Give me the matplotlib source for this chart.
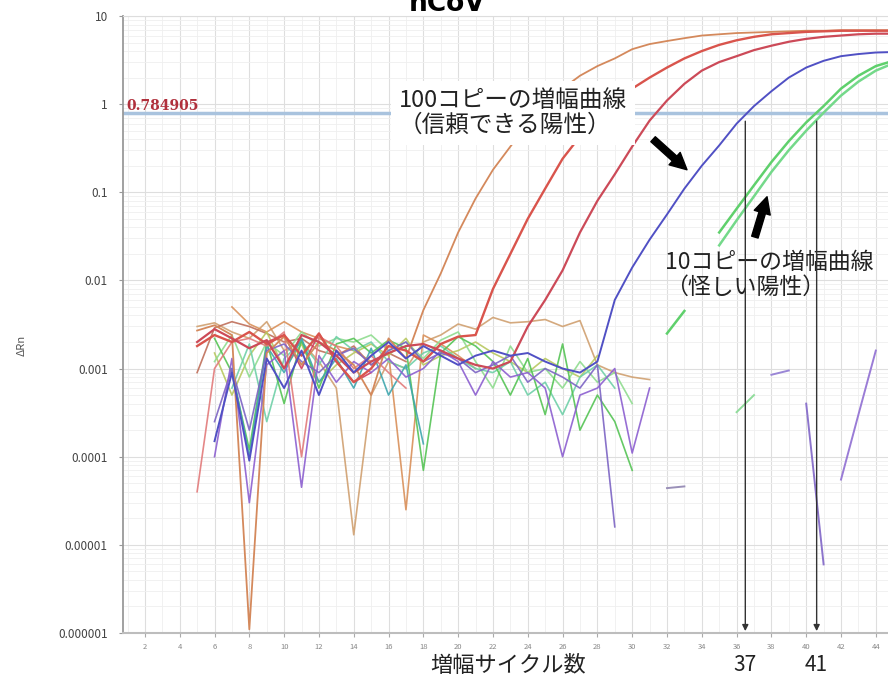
import numpy as np
import matplotlib
matplotlib.use('Agg')
import matplotlib.pyplot as plt
from matplotlib.ticker import FixedLocator, NullFormatter, LogLocator, MultipleLocator
from matplotlib.transforms import blended_transform_factory

# ΔRn values are written in units of 1e-3 (None = no point)
SCALE = 1e-3

# amplification curves (cycles 5..45 / 6..45)
cyc_tan = list(range(5, 46))
amp_tan = [2.7, 3.1, 2.4, 0.0011, 1.5, 2.3, 1.1, 2.0, 1.6, 1.1, 0.5, 2.2, 1.3, 4.6, 12, 35, 85,
           180, 330, 600, 1000, 1500, 2100, 2700, 3300, 4200, 4800, 5200, 5600, 6000, 6200,
           6400, 6500, 6600, 6700, 6800, 6800, 6900, 6900, 6900, 6900]

cyc_red1 = list(range(5, 46))
amp_red1 = [1.8, 2.4, 2.0, 2.6, 1.9, 2.4, 1.4, 2.5, 1.2, 0.7, 1.0, 1.8, 1.6, 1.2, 1.9, 2.3,
            2.4, 8, 20, 50, 110, 240, 430, 700, 1050, 1500, 2000, 2600, 3300, 4000, 4700,
            5300, 5800, 6200, 6400, 6600, 6700, 6800, 6800, 6800, 6800]

cyc_red2 = list(range(5, 46))
amp_red2 = [2.0, 2.8, 2.2, 1.7, 2.1, 1.0, 2.4, 2.0, 1.4, 0.9, 1.2, 1.5, 1.8, 1.9, 1.6, 1.3,
            1.1, 1.0, 1.2, 3.0, 6, 13, 35, 80, 160, 330, 650, 1100, 1700, 2400, 3000, 3500,
            4100, 4600, 5100, 5500, 5800, 6000, 6200, 6300, 6300]

cyc_blue = list(range(6, 46))
amp_blue = [0.15, 0.9, 0.09, 1.3, 0.6, 1.6, 0.5, 1.6, 0.9, 1.4, 2.0, 1.3, 1.8, 1.4, 1.1, 1.4,
            1.6, 1.4, 1.5, 1.2, 1.0, 0.9, 1.2, 6, 14, 29, 56, 110, 200, 340, 600, 950, 1400,
            2000, 2600, 3100, 3500, 3700, 3850, 3900]

cyc_green1 = list(range(32, 46))
amp_green1 = [2.5, 4.5, None, 35, 65, 120, 220, 380, 620, 950, 1500, 2100, 2700, 3100]

cyc_green2 = list(range(35, 46))
amp_green2 = [25, 48, 90, 170, 300, 500, 800, 1250, 1800, 2400, 2900]

# baseline noise (cycles 5..31)
cyc_base = list(range(5, 32))
n_purple = [None, 0.10, 1.3, 0.03, 1.1, 1.6, 0.045, 1.4, 0.7, 1.2, 0.9, 1.3, 0.8, 1.0, 1.6,
            1.2, 0.5, 1.2, 0.8, 0.9, 0.6, 0.1, 0.5, 0.6, 1.0, 0.11, 0.6]
n_violet = [None, 0.25, 1.0, 0.2, 1.6, 1.9, 1.2, 0.9, 1.4, 1.7, 1.1, 1.6, 2.0, 1.2, 1.5, 1.3,
            0.9, 1.1, 1.4, 0.7, 1.0, 0.8, 0.6, 1.1, 0.016, None, None]
n_teal = [None, None, 1.0, 0.1, 1.8, 0.9, 2.2, 0.7, 1.3, 0.6, 1.7, 0.5, 1.1, 0.14, None, None,
          None, None, None, None, None, None, None, None, None, None, None]
n_green = [None, 2.2, 0.9, 0.12, 2.0, 0.4, 2.1, 0.6, 1.9, 2.2, 1.5, 2.1, 1.7, 0.07, 1.5, 2.3,
           1.8, 1.2, 0.5, 1.3, 0.3, 1.9, 0.2, 0.5, 0.25, 0.07, None]
n_lightgreen = [None, 1.2, 2.4, 0.8, 2.0, 1.4, 2.6, 1.8, 2.2, 2.0, 2.4, 1.6, 2.0, 1.3, 2.1,
                2.6, 1.2, 0.6, 1.8, 0.9, 1.0, 0.6, 1.2, 0.7, 0.9, 0.4, None]
n_mint = [None, None, 0.6, 1.9, 0.25, 1.3, 2.0, 1.1, 2.3, 1.6, 2.0, 1.2, 1.0, 1.5, 1.8, 1.3,
          1.0, 0.9, 1.2, 0.5, 0.7, 0.3, 0.8, 1.1, 0.6, None, None]
n_salmon = [0.04, 1.0, 2.0, 2.2, 1.8, 2.6, 0.1, 2.3, 1.8, 1.0, 1.4, 0.9, 0.6, None, None, None,
            None, None, None, None, None, None, None, None, None, None, None]
n_sand = [3.0, 3.3, 2.6, 2.2, 3.4, 1.6, 2.0, 1.2, 0.6, 0.013, 0.5, 1.2, 1.0, 2.0, 2.4, 3.2,
          2.8, 3.8, 3.3, 3.4, 3.6, 3.0, 3.5, 1.1, 0.9, 0.8, 0.75]
n_olive = [None, 1.5, 0.5, 1.4, 2.6, 1.0, 1.9, 0.7, 1.1, 1.5, 1.9, 1.4, 2.2, 1.1, 1.4, 1.6,
           2.0, 1.5, 1.2, 0.9, 1.3, 1.0, 0.8, 1.4, None, None, None]
n_crimson = [None, None, None, None, 2.0, 2.4, 1.0, 2.5, 1.2, 0.7, 0.9, None, None, None, None,
             None, None, None, None, None, None, None, None, None, None, None, None]
n_brown = [0.9, 2.9, 3.4, 3.0, 2.5, 2.0, 2.2, 1.6, 1.4, 1.8, 1.1, 1.5, 1.2, None, None, None,
           None, None, None, None, None, None, None, None, None, None, None]
n_orange = [None, None, 5.0, 3.2, 2.6, 3.4, 2.6, 2.2, 1.8, 1.6, 1.2, 1.5, 0.025, 2.4, 1.9,
            1.4, 1.0, None, None, None, None, None, None, None, None, None, None]

# short late fragments
frag_cycles = [[36, 37], [38, 39], [32, 33], [40, 41], [42, 43, 44]]
frag_values = [[0.32, 0.5], [0.85, 0.95], [0.044, 0.046], [0.4, 0.006], [0.055, 0.3, 1.6]]
frag_colors = ['#8fdc9a', '#9a86d6', '#9a90b8', '#8c74cc', '#9a7cd6']

threshold = 0.784905
ct_100, ct_10 = 36.5, 40.6
ct_labels = ['37', '41']

plt.rcParams['font.family'] = ['Noto Sans CJK JP', 'DejaVu Sans']

fig = plt.figure(figsize=(8.88, 6.92), dpi=100)
ax = fig.add_axes([0.1385, 0.0853, 0.8615, 0.8916])
ax.set_yscale('log')
ax.set_xlim(0.74, 44.7)
ax.set_ylim(1e-6, 10)


def arr(v):
    return np.array(v, dtype=float) * SCALE


noise = [(n_sand, '#d0a070'), (n_brown, '#bf6f5a'), (n_orange, '#d9905a'),
         (n_olive, '#b8c860'), (n_lightgreen, '#8fdc8f'), (n_mint, '#6fd0a8'),
         (n_green, '#55c455'), (n_teal, '#3fa6ae'), (n_salmon, '#e27a7a'),
         (n_crimson, '#d23c5c'), (n_violet, '#7c64c4'), (n_purple, '#8c5fd0')]
for vals, col in noise:
    ax.plot(cyc_base, arr(vals), color=col, lw=1.2, alpha=0.9)

for cx, vx, col in zip(frag_cycles, frag_values, frag_colors):
    ax.plot(cx, arr(vx), color=col, lw=1.4)

ax.plot(cyc_tan, arr(amp_tan), color='#d4895c', lw=1.3)
ax.plot(cyc_red1, arr(amp_red1), color='#d9544c', lw=1.7)
ax.plot(cyc_red2, arr(amp_red2), color='#cc4a58', lw=1.6)
ax.plot(cyc_blue, arr(amp_blue), color='#5050c4', lw=1.4)
ax.plot(cyc_green1, arr(amp_green1), color='#5fd06c', lw=1.8)
ax.plot(cyc_green2, arr(amp_green2), color='#74d98a', lw=1.8)

ax.axhline(threshold, color='#a9c3de', lw=2.5, zorder=1.8)
ax.text(0.004, threshold, f'{threshold:.6f}',
        transform=blended_transform_factory(ax.transAxes, ax.transData),
        family='DejaVu Serif', weight='bold', color='#b0303c', fontsize=10,
        ha='left', va='bottom')

# grid / ticks
ax.xaxis.set_major_locator(MultipleLocator(2))
ax.xaxis.set_minor_locator(MultipleLocator(1))
ax.set_xticks(range(2, 45, 2))
ax.set_xticklabels([str(i) for i in range(2, 45, 2)])
decades = [1e-6, 1e-5, 1e-4, 1e-3, 1e-2, 1e-1, 1, 10]
dec_labels = ['0.000001', '0.00001', '0.0001', '0.001', '0.01', '0.1', '1', '10']
ax.yaxis.set_major_locator(FixedLocator(decades))
ax.set_yticklabels(dec_labels)
ax.yaxis.set_minor_locator(LogLocator(base=10, subs=np.arange(2, 10)))
ax.yaxis.set_minor_formatter(NullFormatter())
ax.grid(which='major', color='#dedede', lw=0.8, zorder=0)
ax.grid(which='minor', color='#efefef', lw=0.6, zorder=0)
ax.set_axisbelow(True)
ax.tick_params(axis='y', which='major', labelsize=8.5, labelcolor='#444', color='#999',
               length=3, pad=8)
ax.tick_params(axis='y', which='minor', length=0)
ax.tick_params(axis='x', which='major', labelsize=5.5, labelcolor='#888', color='#aaa',
               length=3, pad=4)
ax.tick_params(axis='x', which='minor', length=0)
ax.spines['left'].set_color('#9a9a9a')
ax.spines['left'].set_linewidth(1.3)
ax.spines['bottom'].set_color('#bdbdbd')
ax.spines['bottom'].set_linewidth(1.5)
ax.spines['top'].set_color('#dddddd')
ax.spines['right'].set_visible(False)

# Ct markers
for ct in (ct_100, ct_10):
    ax.annotate('', xy=(ct, 1.05e-6), xytext=(ct, 0.64),
                arrowprops=dict(arrowstyle='-|>', color='#333333', lw=1.0,
                                mutation_scale=9, shrinkA=0, shrinkB=0), zorder=5)
bt = blended_transform_factory(ax.transData, fig.transFigure)
for ct, lab in zip((ct_100, ct_10), ct_labels):
    ax.text(ct, 1 - 665 / 692, lab, transform=bt, ha='center', va='center',
            fontsize=15, color='#222')

# annotations
ax.text(16.6, 0.80, '100コピーの増幅曲線\n（信頼できる陽性）', fontsize=17, color='#222',
        ha='left', va='center', linespacing=1.1, zorder=6,
        bbox=dict(facecolor='white', edgecolor='none', pad=6))
ax.annotate('', xy=(33.15, 0.18), xytext=(31.2, 0.40),
            arrowprops=dict(arrowstyle='simple,head_width=1.0,head_length=1.0,tail_width=0.4',
                            color='black', mutation_scale=12, shrinkA=0, shrinkB=0), zorder=7)
ax.text(31.9, 0.0117, '10コピーの増幅曲線\n（怪しい陽性）', fontsize=16.5, color='#222',
        ha='left', va='center', linespacing=1.1, zorder=4)
ax.annotate('', xy=(37.75, 0.089), xytext=(37.05, 0.031),
            arrowprops=dict(arrowstyle='simple,head_width=1.0,head_length=1.0,tail_width=0.4',
                            color='black', mutation_scale=12, shrinkA=0, shrinkB=0), zorder=7)

fig.text(508 / 888, 1 - 665 / 692, '増幅サイクル数', ha='center', va='center', fontsize=16,
         color='#222')
fig.text(22 / 888, 1 - 345 / 692, 'ΔRn', rotation=90, ha='center', va='center',
         fontsize=8, color='#555')
fig.text(447 / 888, 1 - 11 / 692, 'nCoV', ha='center', va='baseline', fontsize=19,
         weight='bold', family='DejaVu Sans')

fig.savefig('out.png', dpi=100)
